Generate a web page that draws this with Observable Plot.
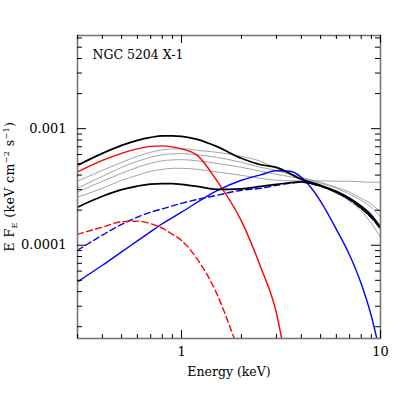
<!DOCTYPE html>
<html>
<head>
<meta charset="utf-8">
<script src="https://cdn.jsdelivr.net/npm/d3@7"></script>
<script src="https://cdn.jsdelivr.net/npm/@observablehq/plot@0.6"></script>
<style>
  html, body { margin: 0; padding: 0; background: #fff; }
</style>
</head>
<body>
<div id="chart"></div>
<script>
// ---- data (energy in keV, E*F_E in keV cm^-2 s^-1) ----
const energy = [0.3,0.4,0.5,0.6,0.7,0.8,0.9,1.0,1.2,1.5,2,2.5,3,4,5,6,7,8,9,10];
const totalHigh = [4.85e-4,6.14e-4,7.19e-4,7.94e-4,8.42e-4,8.68e-4,8.68e-4,8.59e-4,8.10e-4,7.05e-4,5.57e-4,4.90e-4,4.66e-4,3.68e-4,3.27e-4,2.90e-4,2.53e-4,2.16e-4,1.81e-4,1.43e-4];
const totalLow  = [2.12e-4,2.63e-4,3.00e-4,3.22e-4,3.35e-4,3.38e-4,3.38e-4,3.33e-4,3.20e-4,3.02e-4,3.05e-4,3.20e-4,3.33e-4,3.50e-4,3.22e-4,2.85e-4,2.48e-4,2.08e-4,1.74e-4,1.40e-4];
const gray1 = [3.54e-4,4.39e-4,5.14e-4,5.79e-4,6.27e-4,6.58e-4,6.71e-4,6.74e-4,6.52e-4,6.27e-4,5.79e-4,5.25e-4,4.57e-4,3.83e-4,3.47e-4,3.14e-4,2.85e-4,2.53e-4,2.25e-4,1.92e-4];
const gray2 = [3.08e-4,3.90e-4,4.66e-4,5.25e-4,5.68e-4,5.96e-4,6.08e-4,6.11e-4,5.96e-4,5.68e-4,5.14e-4,4.66e-4,4.39e-4,3.75e-4,3.40e-4,3.08e-4,2.74e-4,2.43e-4,2.12e-4,1.74e-4];
const gray3 = [2.85e-4,3.54e-4,4.14e-4,4.66e-4,5.04e-4,5.30e-4,5.40e-4,5.43e-4,5.30e-4,5.04e-4,4.66e-4,4.31e-4,4.06e-4,3.68e-4,3.20e-4,2.79e-4,2.38e-4,1.96e-4,1.54e-4,1.17e-4];
const gray4 = [2.58e-4,3.08e-4,3.61e-4,3.98e-4,4.31e-4,4.48e-4,4.57e-4,4.57e-4,4.48e-4,4.26e-4,3.98e-4,3.75e-4,3.61e-4,3.57e-4,3.57e-4,3.54e-4,3.54e-4,3.50e-4,3.47e-4,3.47e-4];

const eDiskHigh = [0.3,0.4,0.5,0.6,0.7,0.8,0.9,1.0,1.2,1.5,2,2.5,3,3.3];
const diskHigh  = [4.26e-4,5.35e-4,6.14e-4,6.71e-4,7.05e-4,7.12e-4,6.98e-4,6.71e-4,5.90e-4,3.61e-4,1.61e-4,6.48e-5,2.61e-5,1.14e-5];
const eDiskLow = [0.3,0.4,0.5,0.6,0.7,0.8,0.9,1.0,1.2,1.5,1.8,1.95];
const diskLow  = [1.24e-4,1.43e-4,1.59e-4,1.61e-4,1.53e-4,1.40e-4,1.24e-4,1.10e-4,7.59e-5,3.88e-5,1.76e-5,1.22e-5];
const eComptHigh = [0.3,0.4,0.5,0.6,0.7,0.8,1.0,1.5,2,2.5,3,3.5,4,4.5,5,6,7,8,9,9.8];
const comptHigh  = [4.85e-5,6.73e-5,8.78e-5,1.09e-4,1.31e-4,1.53e-4,1.92e-4,2.93e-4,3.61e-4,4.02e-4,4.35e-4,4.31e-4,3.83e-4,3.08e-4,2.38e-4,1.37e-4,8.21e-5,4.68e-5,2.46e-5,1.34e-5];
const eComptLow = [0.3,0.4,0.5,0.6,0.7,0.8,1.0,1.5,2,2.5,3,4,5,6,7,8,9,10];
const comptLow  = [9.06e-5,1.22e-4,1.51e-4,1.74e-4,1.92e-4,2.05e-4,2.29e-4,2.68e-4,2.96e-4,3.08e-4,3.27e-4,3.47e-4,3.20e-4,2.85e-4,2.45e-4,2.06e-4,1.72e-4,1.38e-4];

const xMajor = [1, 10];
const xMinor = [0.3,0.4,0.5,0.6,0.7,0.8,0.9,2,3,4,5,6,7,8,9];
const yMajor = [1e-4, 1e-3];
const yMinor = [2e-5,3e-5,4e-5,5e-5,6e-5,7e-5,8e-5,9e-5,2e-4,3e-4,4e-4,5e-4,6e-4,7e-4,8e-4,9e-4,2e-3,3e-3,4e-3,5e-3,6e-3];
const yTickLabels = ["0.0001", "0.001"];
const title = "NGC 5204 X-1";
const xLabel = "Energy (keV)";

const rows = (es, vs) => es.map((e, i) => ({e, f: vs[i]}));

const W = 415, H = 415;
const mL = 77, mR = 35, mT = 35, mB = 77;
const fw = W - mL - mR, fh = H - mT - mB;
const font = "DejaVu Serif";

const line = (data, opts) => Plot.line(data, {x: "e", y: "f", curve: "monotone-x", clip: true, ...opts});

const chart = Plot.plot({
  width: W, height: H,
  marginLeft: mL, marginRight: mR, marginTop: mT, marginBottom: mB,
  x: {type: "log", domain: [0.3, 10], axis: null},
  y: {type: "log", domain: [1.585e-5, 6.3e-3], axis: null},
  style: {fontFamily: font, fontSize: "12px", background: "#fff", color: "#000"},
  marks: [
    // thin grey model curves
    line(rows(energy, gray1), {stroke: "#9a9a9a", strokeWidth: 0.9}),
    line(rows(energy, gray2), {stroke: "#9a9a9a", strokeWidth: 0.9}),
    line(rows(energy, gray3), {stroke: "#9a9a9a", strokeWidth: 0.9}),
    line(rows(energy, gray4), {stroke: "#9a9a9a", strokeWidth: 0.9}),
    // components
    line(rows(eComptLow, comptLow), {stroke: "#0000ff", strokeWidth: 1.4, strokeDasharray: "6,3.5"}),
    line(rows(eDiskLow, diskLow), {stroke: "#ff0000", strokeWidth: 1.4, strokeDasharray: "6,3.5"}),
    line(rows(eComptHigh, comptHigh), {stroke: "#0000ff", strokeWidth: 1.4}),
    line(rows(eDiskHigh, diskHigh), {stroke: "#ff0000", strokeWidth: 1.4}),
    // totals
    line(rows(energy, totalLow), {stroke: "#000", strokeWidth: 1.7}),
    line(rows(energy, totalHigh), {stroke: "#000", strokeWidth: 1.7}),
    // frame
    Plot.frame({stroke: "#777", strokeWidth: 1.6}),
    // inside ticks: bottom, top, left, right
    Plot.tickX(xMajor, {x: d => d, insetTop: fh - 8, stroke: "#000"}),
    Plot.tickX(xMinor, {x: d => d, insetTop: fh - 4, stroke: "#000"}),
    Plot.tickX(xMajor, {x: d => d, insetBottom: fh - 8, stroke: "#000"}),
    Plot.tickX(xMinor, {x: d => d, insetBottom: fh - 4, stroke: "#000"}),
    Plot.tickY(yMajor, {y: d => d, insetRight: fw - 9, stroke: "#000"}),
    Plot.tickY(yMinor, {y: d => d, insetRight: fw - 5, stroke: "#000"}),
    Plot.tickY(yMajor, {y: d => d, insetLeft: fw - 9, stroke: "#000"}),
    Plot.tickY(yMinor, {y: d => d, insetLeft: fw - 5, stroke: "#000"}),
    // tick labels
    Plot.text(xMajor, {x: d => d, text: d => String(d), frameAnchor: "bottom", lineAnchor: "middle", dy: 13, fontSize: 13}),
    Plot.text(yMajor, {y: d => d, text: (d, i) => yTickLabels[i], frameAnchor: "left", textAnchor: "end", dx: -11, fontSize: 13}),
    // axis label and title
    Plot.text([xLabel], {frameAnchor: "bottom", lineAnchor: "middle", dy: 33, fontSize: 12.5, letterSpacing: "1.3px"}),
    Plot.text([title], {frameAnchor: "top-left", textAnchor: "start", lineAnchor: "middle", dx: 15, dy: 19, fontSize: 12.5, letterSpacing: "1.6px"})
  ]
});

// y-axis label with subscript / superscripts
const svg = d3.select(chart.tagName.toLowerCase() === "svg" ? chart : chart.querySelector("svg"));
const yl = svg.append("text")
  .attr("transform", `translate(14,${mT + fh / 2}) rotate(-90)`)
  .attr("text-anchor", "middle")
  .attr("font-family", font)
  .attr("font-size", 12.5)
  .attr("letter-spacing", "0.4px")
  .attr("fill", "#000");
yl.append("tspan").text("E F");
yl.append("tspan").attr("font-size", 8).attr("dy", 3).text("E");
yl.append("tspan").attr("dy", -3).text(" (keV cm");
yl.append("tspan").attr("font-size", 8).attr("dy", -5).text("−2");
yl.append("tspan").attr("dy", 5).text(" s");
yl.append("tspan").attr("font-size", 8).attr("dy", -5).text("−1");
yl.append("tspan").attr("dy", 5).text(")");

document.getElementById("chart").appendChild(chart);
</script>
</body>
</html>
